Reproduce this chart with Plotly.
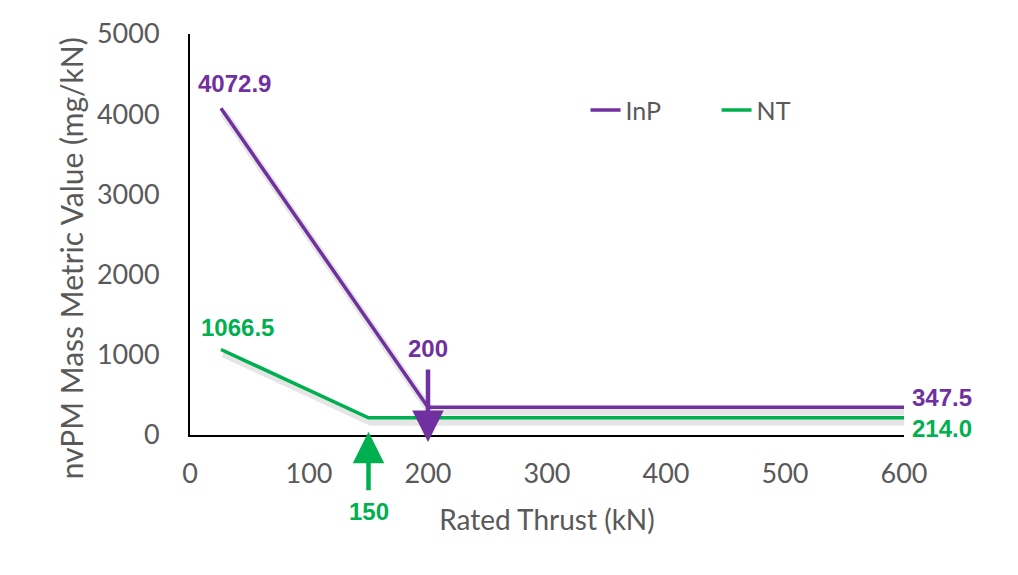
import plotly.graph_objects as go

thrust_inp = [26, 200, 600]
inp_values = [4072.9, 347.5, 347.5]
thrust_nt = [26, 150, 600]
nt_values = [1066.5, 214.0, 214.0]

PURPLE = '#7030A0'
GREEN = '#00B050'
GREY = '#595959'

fig = go.Figure()

# soft drop shadow under both lines
for xs, ys in [(thrust_inp, inp_values), (thrust_nt, nt_values)]:
    fig.add_trace(go.Scatter(x=[v + 2 for v in xs], y=[v - 50 for v in ys], mode='lines',
                             line=dict(color='rgba(0,0,0,0.10)', width=8),
                             showlegend=False, hoverinfo='skip'))

fig.add_trace(go.Scatter(x=thrust_inp, y=inp_values, mode='lines', name='InP',
                         line=dict(color=PURPLE, width=3.5)))
fig.add_trace(go.Scatter(x=thrust_nt, y=nt_values, mode='lines', name='NT',
                         line=dict(color=GREEN, width=3.5)))

lab = dict(family='Liberation Sans', size=24)

fig.add_annotation(x=thrust_inp[0], y=inp_values[0], text='<b>%.1f</b>' % inp_values[0],
                   showarrow=False, yshift=25, xshift=14, font=dict(color=PURPLE, **lab))
fig.add_annotation(x=thrust_nt[0], y=nt_values[0], text='<b>%.1f</b>' % nt_values[0],
                   showarrow=False, yshift=22, xshift=17, font=dict(color=GREEN, **lab))
fig.add_annotation(x=600, y=inp_values[-1], text='<b>%.1f</b>' % inp_values[-1],
                   showarrow=False, xanchor='left', xshift=6, yshift=10, font=dict(color=PURPLE, **lab))
fig.add_annotation(x=600, y=nt_values[-1], text='<b>%.1f</b>' % nt_values[-1],
                   showarrow=False, xanchor='left', xshift=6, yshift=-11, font=dict(color=GREEN, **lab))

# breakpoint arrows (tails given as pixel offsets)
fig.add_annotation(x=200, y=0, yshift=-7, ax=0, ay=-74,
                   showarrow=True, arrowhead=2, arrowsize=1.4, arrowwidth=4.5, arrowcolor=PURPLE,
                   text='')
fig.add_annotation(x=200, y=1080, text='<b>200</b>', showarrow=False, font=dict(color=PURPLE, **lab))
fig.add_annotation(x=150, y=40, ax=0, ay=60,
                   showarrow=True, arrowhead=2, arrowsize=1.4, arrowwidth=4.5, arrowcolor=GREEN,
                   text='')
fig.add_annotation(x=150, y=0, yshift=-76, text='<b>150</b>', showarrow=False, font=dict(color=GREEN, **lab))

# y-axis title placed as an annotation (sits a little below the plot centre)
fig.add_annotation(xref='paper', yref='paper', x=-0.167, y=0.44, xanchor='center', yanchor='middle',
                   textangle=-90, showarrow=False,
                   text='nvPM Mass Metric Value (mg/kN)', font=dict(size=30, color=GREY))

fig.update_layout(
    width=1018, height=575,
    margin=dict(l=182, r=122, t=26, b=148, autoexpand=False),
    plot_bgcolor='white', paper_bgcolor='white',
    font=dict(family='Lato', color=GREY),
    legend=dict(orientation='h', x=0.554, y=0.81, xanchor='left', yanchor='middle',
                entrywidth=86, entrywidthmode='pixels',
                font=dict(size=25, color=GREY), bgcolor='rgba(0,0,0,0)'),
    xaxis=dict(range=[0, 600], tickvals=[0, 100, 200, 300, 400, 500, 600],
               showgrid=False, zeroline=False, showline=True, linecolor='black', linewidth=2,
               ticks='', tickfont=dict(size=27, color=GREY), ticklabelstandoff=14,
               title=dict(text='Rated Thrust (kN)', font=dict(size=28, color=GREY), standoff=22)),
    yaxis=dict(range=[0, 5000], tickvals=[0, 1000, 2000, 3000, 4000, 5000],
               showgrid=False, zeroline=False, showline=True, linecolor='black', linewidth=2,
               ticks='', tickfont=dict(size=27, color=GREY), ticklabelstandoff=23),
)

fig.write_html('out.html')
